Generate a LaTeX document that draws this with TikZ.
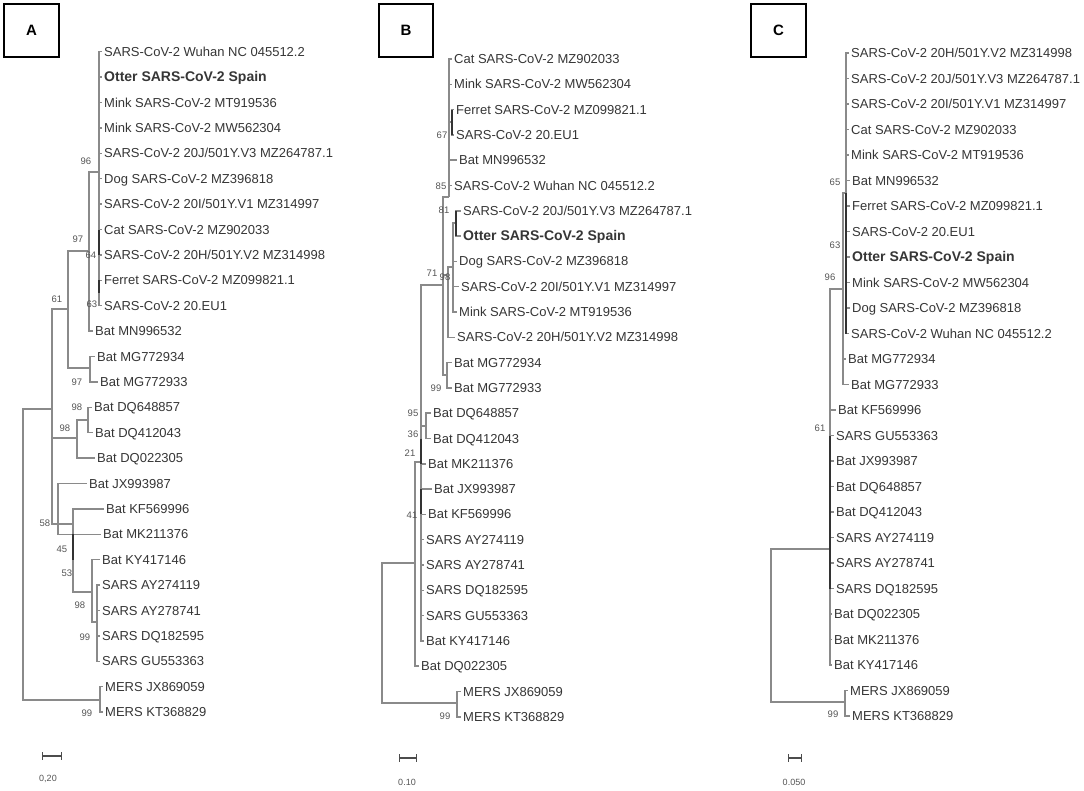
\documentclass[tikz,border=0pt]{standalone}
\usepackage{fontspec}
\setmainfont{Liberation Sans}
\usetikzlibrary{arrows}
\definecolor{branchgray}{HTML}{8A8A8A}
\definecolor{leafgray}{HTML}{363636}
\definecolor{bootgray}{HTML}{555555}
\tikzstyle{leaf} = [anchor=west, inner xsep=2pt, inner ysep=0pt, text height=9.5pt,
    text depth=0.5pt, font=\fontsize{13}{13}\selectfont, text=leafgray]
\tikzstyle{boot} = [inner sep=0pt, font=\fontsize{9.5}{9.5}\selectfont, text=bootgray]
\tikzstyle{branch} = [draw=branchgray, line width=1.5pt]
\tikzstyle{thickbranch} = [draw=black!80, line width=2.4pt]
\tikzstyle{panel} = [rectangle, draw, line width=1.5pt, minimum width=55pt,
    minimum height=53pt, inner sep=0pt, font=\fontsize{15}{15}\selectfont\bfseries]
\tikzstyle{scalebar} = [draw=black!70, line width=1.2pt, |-|]
\tikzstyle{scalelabel} = [inner sep=0pt, font=\fontsize{9}{9}\selectfont, text=bootgray]
\newcommand{\otterlabel}{{\fontsize{14}{14}\selectfont\bfseries Otter SARS-CoV-2 Spain}}

\begin{document}
\begin{tikzpicture}[x=1pt, y=-1pt]
        \path [fill=white, use as bounding box] (0,0) rectangle (1084,790);
        % Panel boxes
        \node [panel, minimum width=55pt] (boxA) at (31.5,30.5) {A};
        \node [panel, minimum width=54pt] (boxB) at (406,30.5) {B};
        \node [panel, minimum width=55pt] (boxC) at (778.5,30.5) {C};
        % Place leaves, panel A
        \foreach \nm/\tx/\lab [count=\k from 0] in {
            aWuh/104/{SARS-CoV-2 Wuhan NC 045512.2},
            aOtt/104/\otterlabel,
            aMkT/104/{Mink SARS-CoV-2 MT919536},
            aMkW/104/{Mink SARS-CoV-2 MW562304},
            aV3/104/{SARS-CoV-2 20J/501Y.V3 MZ264787.1},
            aDog/104/{Dog SARS-CoV-2 MZ396818},
            aV1/104/{SARS-CoV-2 20I/501Y.V1 MZ314997},
            aCat/104/{Cat SARS-CoV-2 MZ902033},
            aV2/104/{SARS-CoV-2 20H/501Y.V2 MZ314998},
            aFer/104/{Ferret SARS-CoV-2 MZ099821.1},
            aEU/104/{SARS-CoV-2 20.EU1},
            aMN/95/{Bat MN996532},
            aMG4/97/{Bat MG772934},
            aMG3/100/{Bat MG772933},
            aDQ6/94/{Bat DQ648857},
            aDQ4/95/{Bat DQ412043},
            aDQ0/97/{Bat DQ022305},
            aJX/89/{Bat JX993987},
            aKF/106/{Bat KF569996},
            aMK/103/{Bat MK211376},
            aKY/102/{Bat KY417146},
            aAY1/102/{SARS AY274119},
            aAY7/102/{SARS AY278741},
            aDQ1/102/{SARS DQ182595},
            aGU/102/{SARS GU553363},
            aMJ/105/{MERS JX869059},
            aMK3/105/{MERS KT368829}}
            \node [leaf] (\nm) at (\tx-2, 51.7+25.4*\k) {\lab};
        % Inner nodes, panel A
        \coordinate (aSC) at (99,172);
        \coordinate (a96) at (89,251);
        \coordinate (aMGn) at (90,368);
        \coordinate (a97) at (68,309);
        \coordinate (aDQn) at (88,420);
        \coordinate (a98) at (77,438);
        \coordinate (aSARS4) at (97,622);
        \coordinate (aSARS) at (92,592);
        \coordinate (aKFn) at (73,524);
        \coordinate (a58) at (58,524);
        \coordinate (a61) at (52,409);
        \coordinate (aMERS) at (100,700);
        \coordinate (aRoot) at (23,555);
        % Draw edges, panel A
        \foreach \c in {aWuh,aOtt,aMkT,aMkW,aV3,aDog,aV1,aCat,aV2,aFer,aEU}
            \path [branch] (aSC) |- (\c.west);
        \foreach \p/\c in {a96/aSC, a96/aMN.west, aMGn/aMG4.west, aMGn/aMG3.west,
            a97/a96, a97/aMGn, aDQn/aDQ6.west, aDQn/aDQ4.west, a98/aDQn, a98/aDQ0.west,
            aSARS4/aAY1.west, aSARS4/aAY7.west, aSARS4/aDQ1.west, aSARS4/aGU.west,
            aSARS/aKY.west, aSARS/aSARS4, aKFn/aKF.west, aKFn/aSARS,
            a58/aJX.west, a58/aMK.west, a58/aKFn, a61/a97, a61/a98, a61/a58,
            aMERS/aMJ.west, aMERS/aMK3.west, aRoot/a61, aRoot/aMERS}
            \path [branch] (\p) |- (\c);
        \path [thickbranch] (aSC |- aCat.west) -- (aSC |- aV2.west);
        \path [thickbranch] (aSC |- aFer.west) -- ++(0,13);
        \path [thickbranch] (aKFn |- aMK.west) -- (aKFn |- aKY.west);
        % Place leaves, panel B
        \foreach \nm/\tx/\lab [count=\k from 0] in {
            bCat/454/{Cat SARS-CoV-2 MZ902033},
            bMkW/454/{Mink SARS-CoV-2 MW562304},
            bFer/456/{Ferret SARS-CoV-2 MZ099821.1},
            bEU/456/{SARS-CoV-2 20.EU1},
            bMN/459/{Bat MN996532},
            bWuh/454/{SARS-CoV-2 Wuhan NC 045512.2},
            bV3/463/{SARS-CoV-2 20J/501Y.V3 MZ264787.1},
            bOtt/463/\otterlabel,
            bDog/459/{Dog SARS-CoV-2 MZ396818},
            bV1/461/{SARS-CoV-2 20I/501Y.V1 MZ314997},
            bMkT/459/{Mink SARS-CoV-2 MT919536},
            bV2/457/{SARS-CoV-2 20H/501Y.V2 MZ314998},
            bMG4/454/{Bat MG772934},
            bMG3/454/{Bat MG772933},
            bDQ6/433/{Bat DQ648857},
            bDQ4/433/{Bat DQ412043},
            bMK/428/{Bat MK211376},
            bJX/434/{Bat JX993987},
            bKF/428/{Bat KF569996},
            bAY1/426/{SARS AY274119},
            bAY7/426/{SARS AY278741},
            bDQ1/426/{SARS DQ182595},
            bGU/426/{SARS GU553363},
            bKY/426/{Bat KY417146},
            bDQ0/421/{Bat DQ022305},
            bMJ/463/{MERS JX869059},
            bMK3/463/{MERS KT368829}}
            \node [leaf] (\nm) at (\tx-2, 59+25.3*\k) {\lab};
        % Inner nodes, panel B
        \coordinate (bFE) at (452,122);
        \coordinate (bTop) at (449,197);
        \coordinate (bOV) at (456,223);
        \coordinate (bOD) at (453,267);
        \coordinate (b98) at (448,275);
        \coordinate (bMGn) at (447,375);
        \coordinate (b71) at (443,285);
        \coordinate (bDQn) at (426,426);
        \coordinate (bIn) at (421,462);
        \coordinate (bOut) at (415,563);
        \coordinate (bMERS) at (457,703);
        \coordinate (bRoot) at (382,633);
        % Draw edges, panel B
        \foreach \p/\c in {bFE/bFer.west, bFE/bEU.west, bTop/bCat.west, bTop/bMkW.west,
            bTop/bFE, bTop/bMN.west, bTop/bWuh.west, bOV/bV3.west, bOV/bOtt.west,
            bOD/bOV, bOD/bDog.west, bOD/bV1.west, bOD/bMkT.west, b98/bOD, b98/bV2.west,
            bMGn/bMG4.west, bMGn/bMG3.west, b71/bTop, b71/b98, b71/bMGn,
            bDQn/bDQ6.west, bDQn/bDQ4.west, bIn/b71, bIn/bDQn, bIn/bMK.west,
            bIn/bJX.west, bIn/bKF.west, bIn/bAY1.west, bIn/bAY7.west, bIn/bDQ1.west,
            bIn/bGU.west, bIn/bKY.west, bOut/bIn, bOut/bDQ0.west,
            bMERS/bMJ.west, bMERS/bMK3.west, bRoot/bOut, bRoot/bMERS}
            \path [branch] (\p) |- (\c);
        \path [thickbranch] (bFE |- bFer.west) -- (bFE |- bEU.west);
        \path [thickbranch] (bOV |- bV3.west) -- (bOV |- bOtt.west);
        \path [thickbranch] (bIn |- bDQ4.west) -- (bIn |- bMK.west);
        \path [thickbranch] (bIn |- bJX.west) -- (bIn |- bKF.west);
        % Place leaves, panel C
        \foreach \nm/\tx/\lab [count=\k from 0] in {
            cV2/851/{SARS-CoV-2 20H/501Y.V2 MZ314998},
            cV3/851/{SARS-CoV-2 20J/501Y.V3 MZ264787.1},
            cV1/851/{SARS-CoV-2 20I/501Y.V1 MZ314997},
            cCat/851/{Cat SARS-CoV-2 MZ902033},
            cMkT/851/{Mink SARS-CoV-2 MT919536},
            cMN/852/{Bat MN996532},
            cFer/852/{Ferret SARS-CoV-2 MZ099821.1},
            cEU/852/{SARS-CoV-2 20.EU1},
            cOtt/852/\otterlabel,
            cMkW/852/{Mink SARS-CoV-2 MW562304},
            cDog/852/{Dog SARS-CoV-2 MZ396818},
            cWuh/851/{SARS-CoV-2 Wuhan NC 045512.2},
            cMG4/848/{Bat MG772934},
            cMG3/851/{Bat MG772933},
            cKF/838/{Bat KF569996},
            cGU/836/{SARS GU553363},
            cJX/836/{Bat JX993987},
            cDQ6/836/{Bat DQ648857},
            cDQ4/836/{Bat DQ412043},
            cAY1/836/{SARS AY274119},
            cAY7/836/{SARS AY278741},
            cDQ1/836/{SARS DQ182595},
            cDQ0/834/{Bat DQ022305},
            cMK/834/{Bat MK211376},
            cKY/834/{Bat KY417146},
            cMJ/850/{MERS JX869059},
            cMK3/852/{MERS KT368829}}
            \node [leaf] (\nm) at (\tx-2, 53+25.5*\k) {\lab};
        % Inner nodes, panel C
        \coordinate (cSC) at (846,193);
        \coordinate (c96) at (843,289);
        \coordinate (c61) at (830,549);
        \coordinate (cMERS) at (845,702);
        \coordinate (cRoot) at (771,625);
        % Draw edges, panel C
        \foreach \c in {cV2,cV3,cV1,cCat,cMkT,cMN,cFer,cEU,cOtt,cMkW,cDog,cWuh}
            \path [branch] (cSC) |- (\c.west);
        \foreach \c in {cKF,cGU,cJX,cDQ6,cDQ4,cAY1,cAY7,cDQ1,cDQ0,cMK,cKY}
            \path [branch] (c61) |- (\c.west);
        \foreach \p/\c in {c96/cSC, c96/cMG4.west, c96/cMG3.west, c61/c96,
            cMERS/cMJ.west, cMERS/cMK3.west, cRoot/c61, cRoot/cMERS}
            \path [branch] (\p) |- (\c);
        \path [thickbranch] (cSC) -- (cSC |- cWuh.west);
        \path [thickbranch] (c61 |- cGU.west) -- (c61 |- cDQ1.west);
        % Bootstrap values
        \foreach \nm/\x/\y/\v in {bsA96/86/161/96, bsA97a/78/239/97, bsA64/91/255/64,
            bsA63/92/304/63, bsA61/57/299/61, bsA97b/77/382/97, bsA98a/77/407/98,
            bsA98b/65/428/98, bsA58/45/523/58, bsA45/62/549/45, bsA53/67/573/53,
            bsA98c/80/605/98, bsA99a/85/637/99, bsA99b/87/713/99,
            bsB67/442/135/67, bsB85/441/186/85, bsB81/444/210/81, bsB71/432/273/71,
            bsB98/445/277/98, bsB99a/436/388/99, bsB95/413/413/95, bsB36/413/434/36,
            bsB21/410/453/21, bsB41/412/515/41, bsB99b/445/716/99,
            bsC65/835/182/65, bsC63/835/245/63, bsC96/830/277/96, bsC61/820/428/61,
            bsC99/833/714/99}
            \node [boot] (\nm) at (\x,\y) {\v};
        % Scale bars
        \coordinate (sbA1) at (42,756);
        \coordinate (sbA2) at (62,756);
        \coordinate (sbB1) at (399,758);
        \coordinate (sbB2) at (417,758);
        \coordinate (sbC1) at (788,758);
        \coordinate (sbC2) at (802,758);
        \path [scalebar] (sbA1) -- (sbA2);
        \path [scalebar] (sbB1) -- (sbB2);
        \path [scalebar] (sbC1) -- (sbC2);
        \node [scalelabel] (slA) at (48,779) {0,20};
        \node [scalelabel] (slB) at (407,782) {0.10};
        \node [scalelabel] (slC) at (794,782) {0.050};
\end{tikzpicture}
\end{document}
